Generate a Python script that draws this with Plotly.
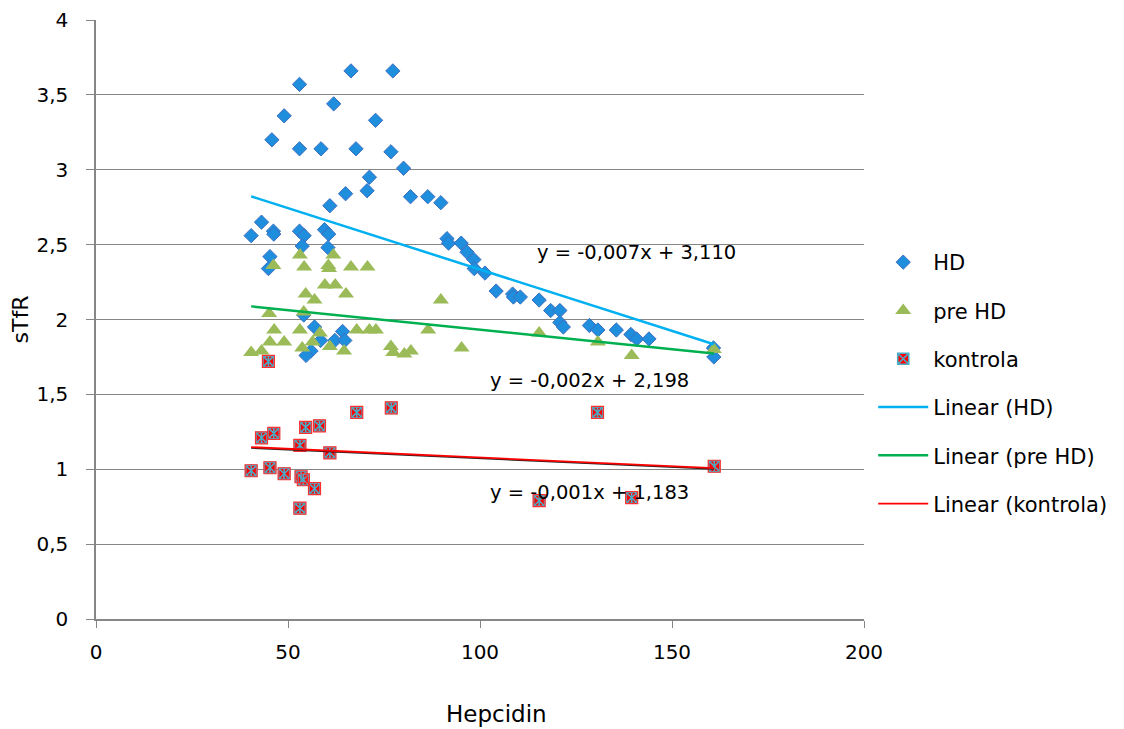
import numpy as np
import plotly.graph_objects as go

# ---- data ----
hd_x = [66.4, 77.3, 53.0, 61.9, 49.0, 72.8, 45.8, 53.0, 58.6, 67.7, 76.8, 80.1, 71.2, 70.6,
        65.0, 81.9, 86.4, 89.8, 60.9, 43.1, 40.4, 46.2, 46.3, 53.0, 54.2, 59.5, 60.6, 91.4,
        91.8, 95.1, 53.7, 60.4, 45.3, 44.9, 96.6, 98.4, 98.5, 54.1, 56.9, 64.2, 58.5, 62.2,
        64.8, 56.0, 54.7, 101.3, 104.2, 108.5, 108.7, 110.5, 115.4, 118.4, 120.8, 120.8,
        121.7, 128.5, 130.7, 135.5, 139.3, 140.8, 144.0, 160.8, 160.9]
hd_y = [3.66, 3.66, 3.57, 3.44, 3.36, 3.33, 3.20, 3.14, 3.14, 3.14, 3.12, 3.01, 2.95, 2.86,
        2.84, 2.82, 2.82, 2.78, 2.76, 2.65, 2.56, 2.59, 2.57, 2.59, 2.56, 2.60, 2.57, 2.54,
        2.51, 2.51, 2.49, 2.48, 2.42, 2.34, 2.45, 2.40, 2.34, 2.03, 1.95, 1.92, 1.86, 1.86,
        1.86, 1.79, 1.76, 2.31, 2.19, 2.17, 2.15, 2.15, 2.13, 2.06, 2.06, 1.98,
        1.95, 1.96, 1.93, 1.93, 1.90, 1.87, 1.87, 1.81, 1.75]

pre_x = [46.2, 53.1, 54.2, 61.8, 60.5, 60.7, 66.4, 70.7, 59.6, 62.3, 54.6, 56.9, 65.1, 89.8,
         45.1, 54.1, 46.4, 53.1, 58.3, 67.9, 71.2, 72.9, 86.5, 45.3, 49.0, 56.4, 60.9, 53.7,
         64.6, 40.4, 43.1, 76.8, 77.4, 80.3, 82.0, 95.2, 115.4, 130.7, 139.5, 160.9]
pre_y = [2.36, 2.43, 2.35, 2.43, 2.36, 2.34, 2.35, 2.35, 2.23, 2.23, 2.17, 2.13, 2.17, 2.13,
         2.04, 2.05, 1.93, 1.93, 1.91, 1.93, 1.93, 1.93, 1.93, 1.85, 1.85, 1.85, 1.82, 1.81,
         1.79, 1.78, 1.79, 1.82, 1.78, 1.77, 1.79, 1.81, 1.91, 1.85, 1.76, 1.80]

ko_x = [43.1, 46.3, 54.6, 58.2, 67.9, 76.9, 53.1, 60.9, 40.4, 45.3, 49.0, 53.4, 54.0, 56.9,
        53.1, 44.9, 130.6, 161.0, 115.4, 139.5]
ko_y = [1.21, 1.24, 1.28, 1.29, 1.38, 1.41, 1.16, 1.11, 0.99, 1.01, 0.97, 0.95, 0.93, 0.87,
        0.74, 1.72, 1.38, 1.02, 0.79, 0.81]

eq_labels = ["y = -0,007x + 3,110", "y = -0,002x + 2,198", "y = -0,001x + 1,183"]
x_ticks = [0, 50, 100, 150, 200]
y_ticks = [0, 0.5, 1, 1.5, 2, 2.5, 3, 3.5, 4]
y_tick_text = ["0", "0,5", "1", "1,5", "2", "2,5", "3", "3,5", "4"]

FONT = "DejaVu Sans"
fig = go.Figure()


def trend(xs, ys):
    k, b = np.polyfit(xs, ys, 1)
    xr = np.array([min(xs), max(xs)])
    return xr, k * xr + b


fig.add_trace(go.Scatter(x=hd_x, y=hd_y, mode="markers", name="HD", legendgroup="a",
                         marker=dict(symbol="diamond", size=11, color="#1F8FDD",
                                     line=dict(color="#3D6EC0", width=1))))
fig.add_trace(go.Scatter(x=pre_x, y=pre_y, mode="markers", name="pre HD", legendgroup="b",
                         marker=dict(symbol="triangle-up", size=14, color="#9BBB59",
                                     line=dict(width=0))))
fig.add_trace(go.Scatter(x=ko_x, y=ko_y, mode="markers", name="kontrola", legendgroup="c",
                         marker=dict(symbol="square-x", size=11, color="#FF0000",
                                     line=dict(color="#4BACC6", width=1.6))))
fig.add_trace(go.Scatter(x=ko_x, y=ko_y, mode="markers", showlegend=False, legendgroup="c",
                         marker=dict(symbol="line-ns-open", size=9, color="#4BACC6",
                                     line=dict(width=1.6)), hoverinfo="skip"))
fig.add_trace(go.Scatter(x=ko_x, y=ko_y, mode="markers", showlegend=False, legendgroup="c",
                         marker=dict(symbol="square-open", size=12, color="#FF3030",
                                     line=dict(width=1.2)), hoverinfo="skip"))

for xs, ys, nm, col, w, g in [(hd_x, hd_y, "Linear (HD)", "#00B0F0", 2.5, "d"),
                               (pre_x, pre_y, "Linear (pre HD)", "#00B050", 2.5, "e"),
                               (ko_x, ko_y, "Linear (kontrola)", "#FF0000", 1.8, "f")]:
    xr, yr = trend(xs, ys)
    if g == "f":
        fig.add_trace(go.Scatter(x=xr, y=yr - 0.006, mode="lines", showlegend=False,
                                 line=dict(color="#222222", width=1.5), hoverinfo="skip"))
    fig.add_trace(go.Scatter(x=xr, y=yr, mode="lines", name=nm, legendgroup=g,
                             line=dict(color=col, width=w)))

ann_pos = [(140.8, 2.45), (128.6, 1.596), (128.6, 0.848)]
for (ax, ay), t in zip(ann_pos, eq_labels):
    fig.add_annotation(x=ax, y=ay, text=t, showarrow=False, xanchor="center", yanchor="middle",
                       font=dict(family=FONT, size=19.5, color="#000000"))

fig.add_annotation(x=0.522, y=-0.158, xref="paper", yref="paper", text="Hepcidin",
                   showarrow=False, xanchor="center", yanchor="middle",
                   font=dict(family=FONT, size=23, color="#000000"))

fig.update_layout(
    width=1124, height=729,
    margin=dict(l=96, r=260, t=20, b=110),
    paper_bgcolor="white", plot_bgcolor="white",
    font=dict(family=FONT, size=20, color="#000000"),
    legend=dict(x=1.012, xanchor="left", y=0.394, yanchor="middle",
                font=dict(family=FONT, size=21, color="#000000"),
                tracegroupgap=18, itemwidth=50, bgcolor="rgba(0,0,0,0)"),
    xaxis=dict(range=[0, 200], tickvals=x_ticks, showgrid=False, zeroline=False,
               showline=True, linecolor="#868686", linewidth=1.5, automargin=False,
               ticks="outside", ticklen=7, tickcolor="#868686",
               ticklabelstandoff=7, tickfont=dict(family=FONT, size=20)),
    yaxis=dict(range=[0, 4], tickvals=y_ticks, ticktext=y_tick_text, showgrid=True,
               gridcolor="#868686", gridwidth=1, zeroline=False, automargin=False,
               showline=True, linecolor="#868686", linewidth=1.5,
               ticks="outside", ticklen=8, tickcolor="#868686",
               ticklabelstandoff=14, tickfont=dict(family=FONT, size=20),
               title=dict(text="sTfR", font=dict(family=FONT, size=22), standoff=2)),
)

fig.write_html("out.html")
